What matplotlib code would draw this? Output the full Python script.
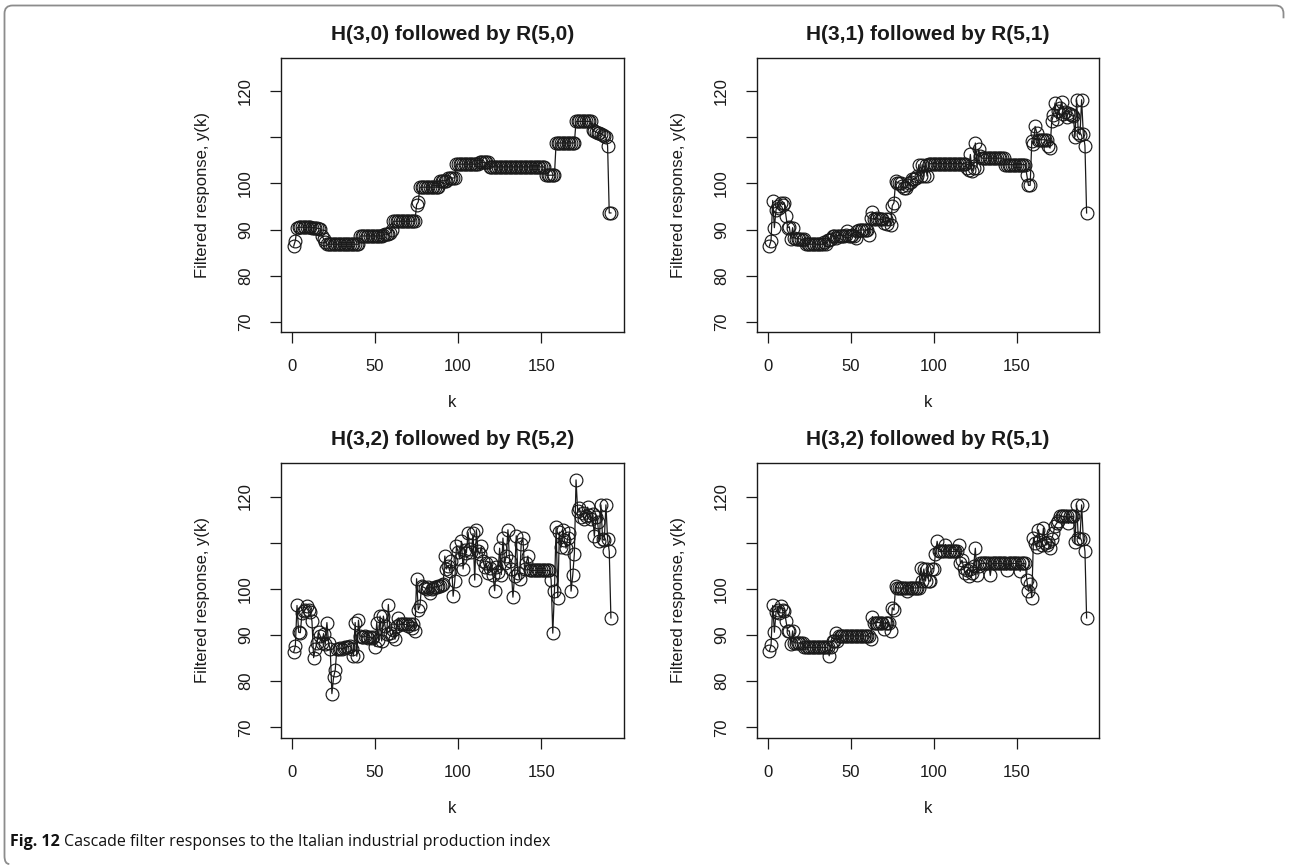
import matplotlib
matplotlib.use("Agg")
import matplotlib.pyplot as plt
from matplotlib.path import Path
from matplotlib.patches import PathPatch

# ---------------- data ----------------
titles = ["H(3,0) followed by R(5,0)", "H(3,1) followed by R(5,1)",
          "H(3,2) followed by R(5,2)", "H(3,2) followed by R(5,1)"]

y_ticks = [70, 80, 90, 100, 110, 120]
y_tick_labels = ["70", "80", "90", "100", "", "120"]
x_ticks = [0, 50, 100, 150]
x_tick_labels = ["0", "50", "100", "150"]

resp_30_50 = [
    86.4, 87.6, 90.4, 90.5, 90.5, 90.5, 90.5, 90.5, 90.5, 90.5,
    90.5, 90.4, 90.4, 90.4, 90.3, 90.2, 90.2, 88.6, 88.0, 87.3,
    86.8, 86.8, 86.8, 86.8, 86.8, 86.8, 86.8, 86.8, 86.8, 86.8,
    86.8, 86.8, 86.8, 86.8, 86.8, 86.8, 86.8, 86.8, 86.8, 86.8,
    88.6, 88.6, 88.6, 88.6, 88.6, 88.6, 88.6, 88.6, 88.6, 88.6,
    88.6, 88.6, 88.6, 88.6, 88.9, 89.0, 89.0, 89.1, 89.2, 89.8,
    91.8, 91.8, 91.8, 91.8, 91.8, 91.8, 91.8, 91.8, 91.8, 91.8,
    91.8, 91.8, 91.8, 91.8, 95.4, 96.0, 99.2, 99.2, 99.2, 99.2,
    99.2, 99.2, 99.2, 99.2, 99.2, 99.2, 99.2, 99.2, 100.6, 100.6,
    100.6, 100.6, 100.6, 101.2, 101.2, 101.2, 101.2, 101.2, 104.2, 104.2,
    104.2, 104.2, 104.2, 104.2, 104.2, 104.2, 104.2, 104.2, 104.2, 104.2,
    104.2, 104.2, 104.6, 104.6, 104.6, 104.6, 104.6, 104.6, 103.6, 103.6,
    103.6, 103.6, 103.6, 103.6, 103.6, 103.6, 103.6, 103.6, 103.6, 103.6,
    103.6, 103.6, 103.6, 103.6, 103.6, 103.6, 103.6, 103.6, 103.6, 103.6,
    103.6, 103.6, 103.6, 103.6, 103.6, 103.6, 103.6, 103.6, 103.6, 103.6,
    103.6, 103.6, 101.8, 101.8, 101.8, 101.8, 101.8, 101.8, 108.8, 108.8,
    108.8, 108.8, 108.8, 108.8, 108.8, 108.8, 108.8, 108.8, 108.8, 108.8,
    113.5, 113.5, 113.5, 113.5, 113.5, 113.5, 113.5, 113.5, 113.5, 113.5,
    111.6, 111.4, 111.2, 111.0, 110.9, 110.8, 110.6, 110.4, 110.0, 108.2,
    93.6, 93.6,
]

resp_31_51 = [
    86.4, 87.6, 96.3, 90.4, 94.3, 95.2, 94.6, 95.8, 95.4, 95.8,
    92.9, 90.4, 90.6, 88.0, 90.4, 88.2, 88.0, 88.0, 88.0, 87.9,
    87.8, 88.0, 86.8, 86.8, 86.8, 86.8, 86.8, 86.9, 86.8, 86.8,
    86.8, 86.8, 86.8, 87.2, 86.8, 87.8, 87.8, 87.9, 88.7, 88.7,
    88.2, 88.7, 88.7, 88.7, 88.7, 88.7, 88.8, 89.6, 88.7, 88.7,
    88.8, 88.7, 88.2, 89.6, 89.9, 89.9, 89.9, 89.9, 89.9, 89.9,
    88.9, 92.5, 93.8, 92.2, 92.2, 92.4, 92.2, 92.2, 92.2, 91.5,
    92.2, 91.1, 92.2, 90.9, 95.2, 95.8, 100.5, 100.2, 100.1, 100.1,
    99.4, 99.0, 99.1, 99.6, 100.1, 100.3, 100.9, 100.9, 101.2, 101.6,
    104.1, 101.6, 104.1, 101.6, 104.1, 101.6, 104.3, 104.3, 104.3, 104.3,
    104.3, 104.3, 104.3, 104.3, 104.3, 104.3, 104.3, 104.3, 104.3, 104.3,
    104.3, 104.3, 104.3, 104.3, 104.3, 104.3, 104.3, 104.3, 104.3, 103.4,
    103.0, 106.3, 102.8, 103.4, 108.8, 103.4, 107.4, 105.9, 105.5, 105.5,
    105.5, 105.5, 105.5, 105.5, 105.5, 105.5, 105.5, 105.5, 105.5, 105.5,
    105.5, 105.5, 104.1, 104.1, 104.1, 104.1, 104.1, 104.1, 104.1, 104.1,
    104.1, 104.1, 104.1, 104.1, 104.1, 101.9, 99.6, 99.6, 109.2, 108.6,
    112.4, 111.0, 109.5, 109.5, 109.5, 109.5, 109.5, 109.5, 108.2, 107.7,
    113.5, 114.8, 117.5, 114.0, 115.7, 116.5, 117.8, 115.0, 115.5, 114.5,
    115.3, 115.0, 114.8, 114.6, 110.2, 118.2, 111.0, 110.6, 118.2, 110.8,
    108.2, 93.6,
]

resp_32_52 = [
    86.3, 87.6, 96.4, 90.6, 90.5, 94.8, 95.2, 95.5, 96.3, 95.5,
    95.0, 93.0, 85.1, 87.0, 88.2, 90.6, 89.8, 88.3, 90.3, 88.0,
    92.7, 88.3, 86.9, 77.3, 80.8, 82.4, 87.0, 87.0, 87.2, 87.0,
    87.1, 87.3, 87.5, 87.5, 87.6, 87.0, 85.5, 92.7, 85.4, 93.2,
    89.8, 89.5, 89.6, 89.8, 89.5, 89.4, 89.6, 89.3, 89.5, 87.5,
    92.7, 89.0, 94.1, 88.7, 94.1, 91.9, 90.2, 96.6, 90.5, 89.8,
    91.0, 89.1, 92.0, 93.7, 92.3, 92.3, 92.4, 92.3, 92.3, 91.9,
    92.3, 91.6, 92.3, 90.9, 102.2, 95.5, 96.3, 100.6, 100.4, 100.2,
    100.0, 100.3, 99.1, 100.0, 100.2, 100.4, 100.5, 100.6, 100.6, 100.8,
    101.0, 107.1, 104.3, 105.0, 103.8, 106.0, 98.4, 101.7, 109.2, 108.0,
    106.5, 110.3, 104.3, 108.5, 107.8, 112.2, 108.6, 107.9, 112.0, 101.9,
    112.8, 108.2, 107.5, 109.2, 106.0, 104.8, 105.5, 103.5, 104.5, 105.5,
    103.0, 99.6, 104.8, 103.6, 108.8, 103.1, 111.0, 105.5, 107.1, 112.8,
    106.0, 104.2, 98.2, 102.7, 111.5, 103.5, 102.2, 109.8, 111.0, 104.2,
    105.5, 107.1, 104.0, 104.0, 104.0, 104.0, 104.0, 104.0, 104.0, 104.0,
    104.0, 104.0, 104.0, 104.0, 104.0, 102.0, 90.4, 99.5, 113.4, 98.1,
    112.3, 109.0, 112.8, 110.5, 108.8, 111.0, 112.0, 99.5, 102.9, 107.6,
    123.6, 116.8, 117.5, 115.6, 116.4, 115.2, 115.8, 117.7, 116.0, 115.1,
    116.2, 111.4, 115.6, 114.5, 110.3, 118.2, 110.8, 110.5, 118.2, 110.8,
    108.1, 93.7,
]

resp_32_51 = [
    86.5, 87.8, 96.4, 90.6, 95.0, 95.5, 94.8, 96.3, 95.5, 95.2,
    93.0, 90.9, 90.9, 88.0, 90.9, 88.3, 88.3, 88.3, 88.3, 88.3,
    88.3, 87.3, 87.3, 87.3, 87.3, 87.3, 87.3, 87.3, 87.3, 87.3,
    87.3, 87.3, 87.3, 87.3, 87.3, 87.3, 85.5, 87.3, 88.8, 88.8,
    90.4, 88.8, 89.8, 89.8, 89.8, 89.8, 89.8, 89.8, 89.8, 89.8,
    89.8, 89.8, 89.8, 89.8, 89.8, 89.8, 89.8, 89.8, 89.8, 89.8,
    89.8, 89.1, 94.0, 92.7, 92.7, 92.7, 92.7, 92.7, 92.7, 91.2,
    92.7, 92.7, 92.7, 90.9, 95.9, 95.4, 100.6, 100.2, 100.2, 100.2,
    100.2, 100.2, 100.2, 99.5, 100.2, 100.2, 100.2, 100.2, 100.2, 100.2,
    100.2, 104.5, 101.7, 104.3, 101.7, 104.4, 101.7, 101.7, 104.4, 104.4,
    107.6, 110.3, 108.1, 108.1, 108.1, 108.1, 109.6, 108.1, 108.1, 108.1,
    108.1, 108.1, 108.1, 108.1, 109.4, 105.6, 106.2, 104.5, 103.4, 104.0,
    102.7, 104.2, 103.5, 105.0, 108.8, 103.1, 105.0, 105.5, 105.5, 105.5,
    105.5, 105.5, 105.5, 102.9, 105.5, 105.5, 105.5, 105.5, 105.5, 105.5,
    105.5, 105.5, 105.5, 104.0, 105.5, 105.5, 105.5, 105.5, 105.5, 105.5,
    105.5, 103.8, 105.5, 105.5, 105.5, 101.9, 99.5, 101.0, 98.1, 111.0,
    110.0, 109.0, 112.8, 110.5, 109.5, 113.2, 110.0, 109.5, 110.2, 108.8,
    110.8, 112.1, 113.7, 114.2, 114.8, 115.7, 115.7, 115.7, 115.7, 115.7,
    114.2, 115.7, 115.7, 115.7, 110.1, 118.2, 111.0, 110.8, 118.2, 110.8,
    108.1, 93.7,
]

series = [resp_30_50, resp_31_51, resp_32_52, resp_32_51]

# ---------------- figure ----------------
W, H = 1289, 868
fig = plt.figure(figsize=(W / 100, H / 100), dpi=100)
plt.rcParams['font.family'] = ['Liberation Sans', 'DejaVu Sans']

# axes boxes in pixels: (left, top, right, bottom)
boxes = [(281, 58.3, 623.6, 331.7), (756.7, 58.3, 1099.3, 331.7),
         (281, 463.3, 623.6, 737.5), (756.7, 463.3, 1099.3, 737.5)]

ink = "#1a1a1a"
for i, (l, t, r, b) in enumerate(boxes):
    ax = fig.add_axes([l / W, 1 - b / H, (r - l) / W, (b - t) / H])
    y = series[i]
    k = list(range(1, len(y) + 1))
    ax.plot(k, y, '-', color=ink, lw=0.9, zorder=2)
    ax.plot(k, y, 'o', mfc='none', mec=ink, ms=9.2, mew=0.85, zorder=3)
    ax.set_xlim(1 - 0.04 * (len(y) - 1), len(y) + 0.04 * (len(y) - 1))
    ax.set_ylim(67.8, 127.2)
    ax.set_xticks(x_ticks)
    ax.set_xticklabels(x_tick_labels)
    ax.set_yticks(y_ticks)
    ax.set_yticklabels(y_tick_labels, rotation=90, va='center')
    ax.tick_params(length=8, width=0.9, color=ink, labelsize=12,
                   labelcolor=ink, pad=12)
    for s in ax.spines.values():
        s.set_linewidth(1.0)
        s.set_color(ink)
    ax.set_title(titles[i], fontsize=15, fontweight='bold', color=ink, pad=13)
    ax.text(-0.228, 0.5, "Filtered response, y(k)", transform=ax.transAxes,
            rotation=90, ha='center', va='center', fontsize=12, color=ink)
    ax.text(0.5, -0.26, "k", transform=ax.transAxes, ha='center',
            va='center', fontsize=12, color=ink)

# frame around figure (open at the bottom right)
x0, y0, x1, y1, rad = 4.5 / W, 1 - 5.5 / H, 1283.5 / W, 1 - 864 / H, 8
rx, ry = rad / W, rad / H
verts = [(x1, y0 - 1.6 * ry), (x1, y0 - ry), (x1, y0), (x1 - rx, y0),
         (x0 + rx, y0), (x0, y0), (x0, y0 - ry), (x0, y1 + ry),
         (x0, y1), (x0 + rx * 0.6, y1)]
codes = [Path.MOVETO, Path.LINETO, Path.CURVE3, Path.CURVE3,
         Path.LINETO, Path.CURVE3, Path.CURVE3, Path.LINETO,
         Path.CURVE3, Path.CURVE3]
fig.add_artist(PathPatch(Path(verts, codes), fill=False, ec="#8c8c8c",
                         lw=1.3, transform=fig.transFigure))

# caption
cap_y = 1 - 846 / H
t1 = fig.text(10 / W, cap_y, "Fig. 12", fontsize=11.5, fontweight='bold',
              family=['Open Sans', 'DejaVu Sans'], color="#111111", va='baseline')
fig.canvas.draw()
bb = t1.get_window_extent(renderer=fig.canvas.get_renderer())
fig.text(bb.x1 / W + 4 / W, cap_y,
         "Cascade filter responses to the Italian industrial production index",
         fontsize=11.5, family=['Open Sans', 'DejaVu Sans'], color="#111111",
         va='baseline')

fig.savefig("out.png", dpi=100)
